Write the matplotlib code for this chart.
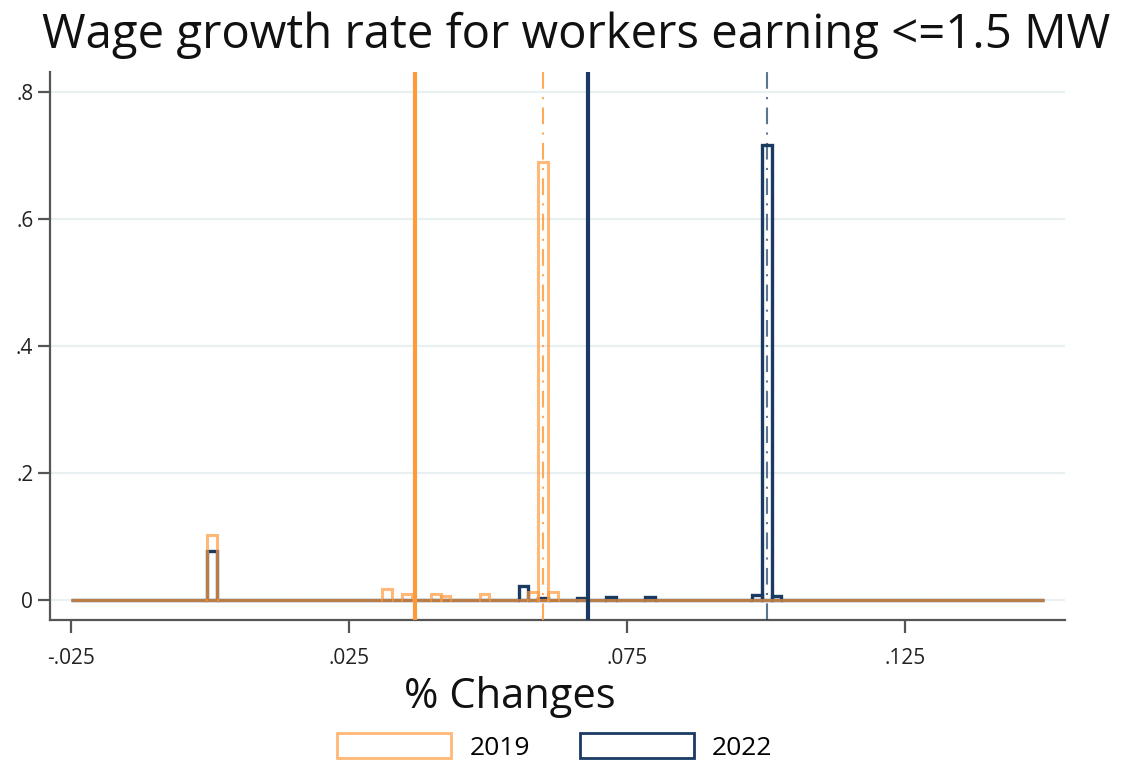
import numpy as np
import matplotlib
matplotlib.use("Agg")
import matplotlib.pyplot as plt
from matplotlib.patches import Patch

# Histogram layout: 100 bins from -0.025 to 0.15
bin_start = -0.025
bin_width = 0.00175
n_bins = 100

# Non-empty bins (bin index -> density) for each year
bins_2019 = [14, 32, 34, 37, 38, 42, 47, 48, 49]
density_2019 = [0.102, 0.018, 0.009, 0.009, 0.006, 0.009, 0.013, 0.690, 0.013]

bins_2022 = [14, 46, 48, 52, 55, 59, 70, 71, 72]
density_2022 = [0.077, 0.0225, 0.003, 0.003, 0.005, 0.004, 0.008, 0.7165, 0.007]

# Mean (solid) and median (dash-dot) growth rates
mean_2019, median_2019 = 0.0369, 0.0599
mean_2022, median_2022 = 0.0680, 0.1002

years = ["2019", "2022"]
orange = "#FF9A3C"
navy = "#1A3A62"

x_ticks = [-0.025, 0.025, 0.075, 0.125]
x_tick_labels = ["-.025", ".025", ".075", ".125"]
y_ticks = [0, 0.2, 0.4, 0.6, 0.8]
y_tick_labels = ["0", ".2", ".4", ".6", ".8"]

plt.rcParams["font.family"] = ["Open Sans", "DejaVu Sans"]

fig = plt.figure(figsize=(11.21, 7.65), dpi=100)
ax = fig.add_axes([50 / 1121, 1 - 620 / 765, 1015 / 1121, 548 / 765])

edges = bin_start + bin_width * np.arange(n_bins + 1)
lefts = edges[:-1]


def full_density(idx, vals):
    d = np.zeros(n_bins)
    d[np.array(idx)] = vals
    return d


d2019 = full_density(bins_2019, density_2019)
d2022 = full_density(bins_2022, density_2022)

ax.bar(lefts, d2022, width=bin_width, align="edge", fill=False,
       edgecolor=navy, linewidth=2.4, zorder=3)
ax.bar(lefts, d2019, width=bin_width, align="edge", fill=False,
       edgecolor=orange, linewidth=2.2, alpha=0.7, zorder=4)

ax.axvline(mean_2019, color=orange, linewidth=3.0, zorder=5)
ax.axvline(median_2019, color=orange, linewidth=1.5, alpha=0.85,
           dashes=(8, 4, 1, 4), zorder=5)
ax.axvline(mean_2022, color=navy, linewidth=3.0, zorder=5)
ax.axvline(median_2022, color=navy, linewidth=1.5, alpha=0.7,
           dashes=(8, 4, 1, 4), zorder=5)

ax.set_xlim(-0.0288, 0.1538)
ax.set_ylim(-0.0315, 0.8315)

ax.set_yticks(y_ticks)
ax.set_yticklabels(y_tick_labels)
ax.set_xticks(x_ticks)
ax.set_xticklabels(x_tick_labels)

ax.grid(axis="y", color="#E8F0F2", linewidth=1.6, zorder=0)
ax.set_axisbelow(True)

for s in ["top", "right"]:
    ax.spines[s].set_visible(False)
for s in ["left", "bottom"]:
    ax.spines[s].set_color("#555555")
    ax.spines[s].set_linewidth(1.6)

ax.tick_params(axis="both", colors="#555555", width=1.6, length=9,
               labelcolor="#222222", labelsize=15)
ax.tick_params(axis="x", pad=11)
ax.tick_params(axis="y", pad=3)

fig.text(576 / 1121, 1 - 35 / 765, "Wage growth rate for workers earning <=1.5 MW",
         ha="center", va="center", fontsize=34, color="#111111")
fig.text(510 / 1121, 1 - 697 / 765, "% Changes",
         ha="center", va="center", fontsize=30, color="#111111")

handles = [Patch(facecolor="none", edgecolor=orange, linewidth=2.0, alpha=0.7),
           Patch(facecolor="none", edgecolor=navy, linewidth=2.0)]
fig.legend(handles, years, loc="center", bbox_to_anchor=(555 / 1121, 1 - 747 / 765),
           ncol=2, frameon=False, fontsize=19, handlelength=4.3, handleheight=1.05,
           handletextpad=0.7, columnspacing=1.9)

fig.savefig("out.png", dpi=100)
